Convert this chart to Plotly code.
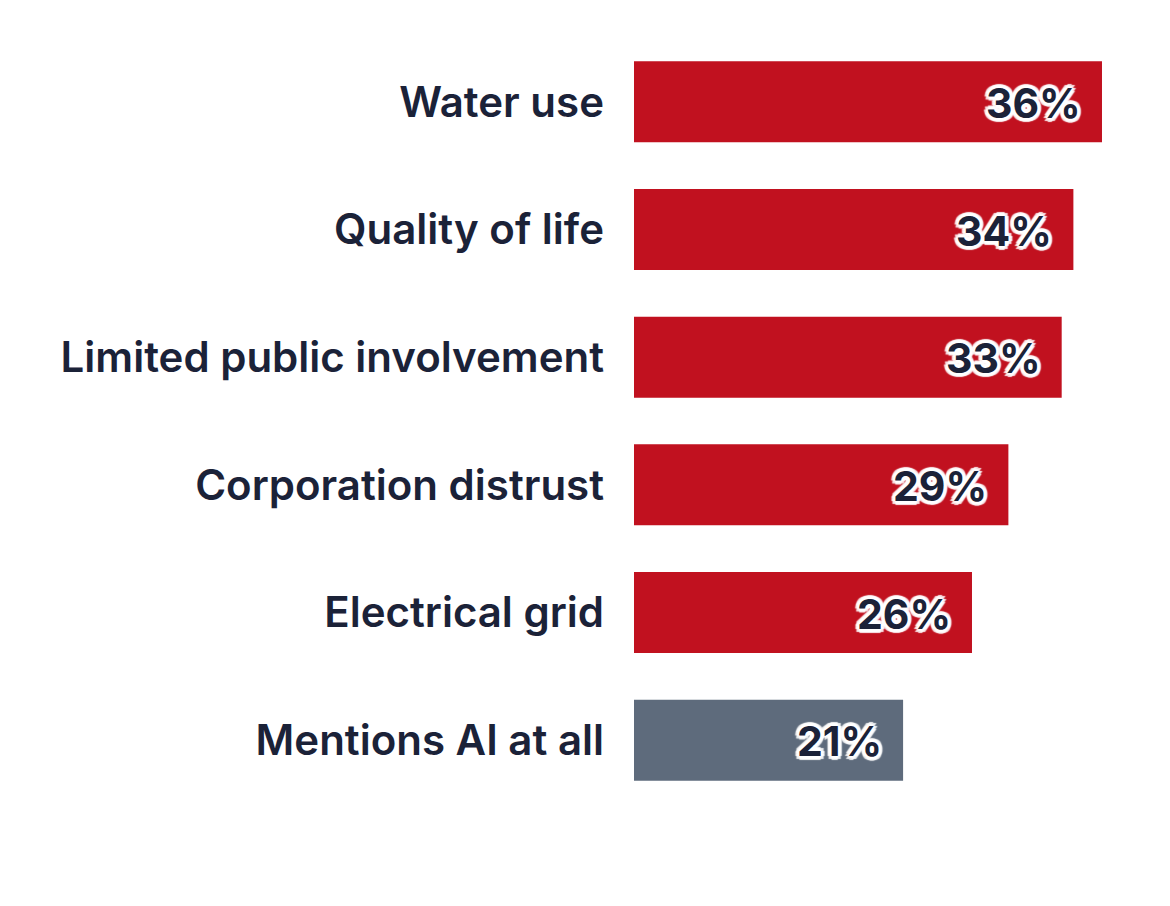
import plotly.graph_objects as go

categories = ["Water use", "Quality of life", "Limited public involvement",
              "Corporation distrust", "Electrical grid", "Mentions AI at all"]
shares = [36.0, 33.8, 32.9, 28.8, 26.0, 20.7]
labels = ["36%", "34%", "33%", "29%", "26%", "21%"]
bar_colors = ["#c1111f", "#c1111f", "#c1111f", "#c1111f", "#c1111f", "#5e6b7c"]

INK = "#1b2238"
FONT = "Inter"

# soft light halo round the value labels
offsets = [(-4, 0), (4, 0), (0, -4), (0, 4), (-3, -3), (3, -3), (-3, 3), (3, 3),
           (-2, 0), (2, 0), (0, -2), (0, 2)]
halo = ", ".join(f"{dx}px {dy}px 1px rgba(255,255,255,0.9)" for dx, dy in offsets)

fig = go.Figure(go.Bar(
    x=shares,
    y=categories,
    orientation="h",
    marker=dict(color=bar_colors, line=dict(width=0)),
    width=0.635,
    hoverinfo="skip",
))

for cat, val, lab in zip(categories, shares, labels):
    fig.add_annotation(
        x=val, y=cat, text=lab, showarrow=False,
        xanchor="right", yanchor="middle", xshift=-19, yshift=-1,
        font=dict(family=FONT, size=41, color=INK, weight=700, shadow=halo),
    )

fig.update_layout(
    width=1170,
    height=906,
    margin=dict(l=626, r=40, t=30, b=110),
    paper_bgcolor="white",
    plot_bgcolor="white",
    showlegend=False,
    xaxis=dict(range=[0, 38.77], visible=False, fixedrange=True),
    yaxis=dict(
        autorange="reversed",
        showgrid=False, zeroline=False, showline=False, ticks="",
        ticklabelstandoff=29,
        tickfont=dict(family=FONT, size=42, color=INK, weight=600),
    ),
)

fig.write_html("out.html")
